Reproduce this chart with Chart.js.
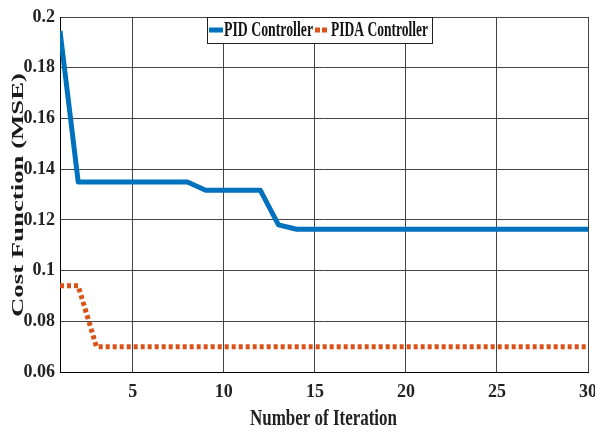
<!DOCTYPE html>
<html>
<head>
<meta charset="utf-8">
<script src="https://cdn.jsdelivr.net/npm/chart.js@4.4.0/dist/chart.umd.min.js"></script>
<style>
  html, body { margin: 0; padding: 0; background: #fff; }
  #wrap { width: 595px; height: 435px; }
</style>
</head>
<body>
<div id="wrap"><canvas id="costChart" width="595" height="435"></canvas></div>
<script>
const iterations = [1, 2, 3, 4, 5, 6, 7, 8, 9, 10, 11, 12, 13, 14, 15, 16, 17, 18, 19, 20, 21, 22, 23, 24, 25, 26, 27, 28, 29, 30];
const pidCost = [0.1945, 0.1349, 0.1349, 0.1349, 0.1349, 0.1349, 0.1349, 0.1349, 0.1317, 0.1317, 0.1317, 0.1317, 0.118, 0.1163, 0.1163,
  0.1163, 0.1163, 0.1163, 0.1163, 0.1163, 0.1163, 0.1163, 0.1163, 0.1163, 0.1163, 0.1163, 0.1163, 0.1163, 0.1163, 0.1163];
const pidaCost = [0.0940, 0.0940, 0.0700, 0.0700, 0.0700, 0.0700, 0.0700, 0.0700, 0.0700, 0.0700, 0.0700, 0.0700, 0.0700, 0.0700, 0.0700,
  0.0700, 0.0700, 0.0700, 0.0700, 0.0700, 0.0700, 0.0700, 0.0700, 0.0700, 0.0700, 0.0700, 0.0700, 0.0700, 0.0700, 0.0700];
const xTicks = [5, 10, 15, 20, 25, 30];
const seriesNames = ['PID Controller', 'PIDA Controller'];
const xTitle = 'Number of Iteration';
const yTitleText = 'Cost Function (MSE)';

const BLUE = '#0072BD';
const ORANGE = '#D95319';
const FONT = '"Liberation Serif", "Times New Roman", serif';

// text squeezed/stretched to a given width, the reference fonts are distorted
function fitText(ctx, text, x, y, width) {
  const w = ctx.measureText(text).width;
  ctx.save();
  ctx.translate(x, y);
  ctx.scale(width / w, 1);
  ctx.fillText(text, 0, 0);
  ctx.restore();
}

// legend drawn inside the plot, MATLAB style
const boxLegend = {
  id: 'boxLegend',
  afterDatasetsDraw(chart) {
    const ctx = chart.ctx;
    const top = chart.chartArea.top;
    const left = 207, right = 432, h = 26;
    const cy = top + h / 2;
    ctx.save();
    ctx.fillStyle = '#fff';
    ctx.fillRect(left, top, right - left, h);
    ctx.strokeStyle = '#222';
    ctx.lineWidth = 1;
    ctx.strokeRect(left + 0.5, top + 0.5, right - left, h);

    ctx.lineWidth = 5;
    ctx.strokeStyle = BLUE;
    ctx.beginPath(); ctx.moveTo(209, cy); ctx.lineTo(223, cy); ctx.stroke();
    ctx.strokeStyle = ORANGE;
    ctx.setLineDash([5, 2]);
    ctx.beginPath(); ctx.moveTo(315, cy); ctx.lineTo(327, cy); ctx.stroke();
    ctx.setLineDash([]);

    ctx.font = 'bold 20px ' + FONT;
    ctx.fillStyle = '#111';
    ctx.textBaseline = 'middle';
    fitText(ctx, seriesNames[0], 224, cy + 1, 89);
    fitText(ctx, seriesNames[1], 331, cy + 1, 97);
    ctx.restore();
  }
};

// axis titles
const axisTitles = {
  id: 'axisTitles',
  afterDraw(chart) {
    const ctx = chart.ctx;
    ctx.save();
    ctx.fillStyle = '#222';
    ctx.textBaseline = 'middle';
    ctx.font = 'bold 24px ' + FONT;
    fitText(ctx, xTitle, 250, 419, 147);

    ctx.translate(19, 317);
    ctx.rotate(-Math.PI / 2);
    ctx.font = 'bold 16px ' + FONT;
    ctx.fillStyle = '#1a1a1a';
    fitText(ctx, yTitleText, 0, 0, 244);
    ctx.restore();
  }
};

const ctx = document.getElementById('costChart').getContext('2d');
new Chart(ctx, {
  type: 'line',
  data: {
    datasets: [
      {
        label: seriesNames[0],
        data: iterations.map((it, i) => ({ x: it, y: pidCost[i] })),
        borderColor: BLUE,
        borderWidth: 5,
        pointRadius: 0,
        tension: 0,
        borderJoinStyle: 'round'
      },
      {
        label: seriesNames[1],
        data: iterations.map((it, i) => ({ x: it, y: pidaCost[i] })),
        borderColor: ORANGE,
        borderWidth: 5,
        borderDash: [4, 3],
        pointRadius: 0,
        tension: 0
      }
    ]
  },
  options: {
    responsive: false,
    animation: false,
    layout: { padding: { top: 17, right: 7, left: 0, bottom: 0 } },
    plugins: {
      legend: { display: false },
      tooltip: { enabled: false }
    },
    scales: {
      x: {
        type: 'linear',
        min: 1,
        max: 30,
        afterBuildTicks: scale => { scale.ticks = xTicks.map(v => ({ value: v })); },
        afterFit: scale => { scale.height = 63; scale.paddingRight = 0; scale.paddingLeft = 0; },
        grid: { color: '#444', lineWidth: 1, drawTicks: false },
        border: { color: '#000', width: 1 },
        ticks: { color: '#222', font: { family: FONT, size: 18, weight: 'bold' }, padding: 10, maxRotation: 0 }
      },
      y: {
        min: 0.06,
        max: 0.2,
        afterBuildTicks: scale => {
          const t = [];
          for (let v = 0.06; v <= 0.2001; v += 0.02) t.push({ value: +v.toFixed(2) });
          scale.ticks = t;
        },
        afterFit: scale => { scale.width = 60; scale.paddingTop = 0; scale.paddingBottom = 0; },
        grid: { color: '#444', lineWidth: 1, drawTicks: false },
        border: { color: '#000', width: 1 },
        ticks: { color: '#222', font: { family: FONT, size: 18, weight: 'bold' }, padding: 5, callback: v => String(+v.toFixed(2)) }
      }
    }
  },
  plugins: [boxLegend, axisTitles]
});
</script>
</body>
</html>
